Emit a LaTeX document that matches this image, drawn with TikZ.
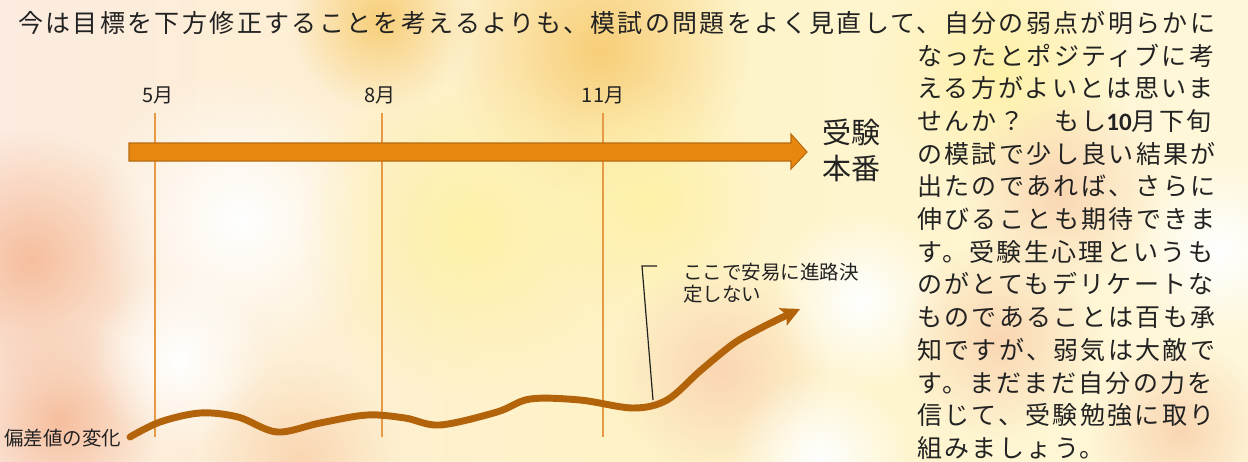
\documentclass[tikz,border=0pt]{standalone}
\usepackage{fontspec}
\usetikzlibrary{arrows.meta,fadings}
\newfontfamily\jpfont{Noto Sans CJK JP}
\newfontfamily\jpbody[LetterSpace=9.4]{Noto Sans CJK JP}
\newfontfamily\numfont{Carlito}
\tikzfading[name=blobfade, inner color=transparent!0, outer color=transparent!100]
\definecolor{bgleft}{HTML}{FCEBE0}
\definecolor{bgmid}{HTML}{FEF3C6}
\definecolor{bgright}{HTML}{FEF7DA}
\definecolor{salmon}{HTML}{F6BE9E}
\definecolor{peach}{HTML}{FAD6B2}
\definecolor{goldy}{HTML}{F8CE78}
\definecolor{paleyellow}{HTML}{FEF1A8}
\definecolor{arrowfill}{HTML}{E8870F}
\definecolor{arrowedge}{HTML}{B86A10}
\definecolor{guide}{HTML}{E79A45}
\definecolor{trend}{HTML}{B3640B}
\definecolor{ink}{HTML}{222222}
\tikzset{
  blob/.style={fill=#1, path fading=blobfade},
  bodytext/.style={font=\jpbody\fontsize{18.75pt}{24pt}\selectfont, text=ink, inner sep=0pt, anchor=base west},
  monthlabel/.style={font=\jpfont\fontsize{15pt}{18pt}\selectfont, text=ink, inner sep=0pt},
  smalllabel/.style={font=\jpfont\fontsize{14.6pt}{17pt}\selectfont, text=ink, inner sep=0pt, anchor=base west},
  biglabel/.style={font=\jpfont\fontsize{21.75pt}{26pt}\selectfont, text=ink, inner sep=0pt, anchor=base west},
  guideline/.style={draw=guide, line width=1.1pt},
  trendline/.style={draw=trend, line width=5.2pt, line cap=round, line join=round},
  callout/.style={draw=ink, line width=0.9pt}
}
\begin{document}
\begin{tikzpicture}[x=0.75pt,y=-0.75pt]
\useasboundingbox (0,0) rectangle (1248,461);
% background
\shade[left color=bgleft, right color=bgright, middle color=bgmid] (0,0) rectangle (1248,461);
\fill[blob=salmon] (30,260) circle (130);
\fill[blob=salmon] (60,420) circle (100);
\fill[blob=white] (240,220) circle (150);
\fill[blob=white] (180,360) circle (90);
\fill[blob=goldy] (600,50) circle (150);
\fill[blob=goldy] (380,20) circle (90);
\fill[blob=paleyellow] (470,230) circle (170);
\fill[blob=paleyellow] (650,200) circle (120);
\fill[blob=peach] (720,370) circle (110);
\fill[blob=white] (860,300) circle (90);
\fill[blob=paleyellow] (1000,70) circle (130);
\fill[blob=peach] (1060,190) circle (100);
\fill[blob=peach] (1000,340) circle (100);
\fill[blob=peach] (1180,430) circle (90);
\fill[blob=white] (1220,250) circle (90);
\fill[blob=white] (820,460) circle (90);
\fill[blob=peach] (300,460) circle (100);
% top text line
\node[bodytext] (line0) at (18,32.5) {今は目標を下方修正することを考えるよりも、模試の問題をよく見直して、自分の弱点が明らかに};
% right column
\foreach \t [count=\i] in {なったとポジティブに考,える方がよいとは思いま,せんか？　もし{\numfont\bfseries 10}月下旬,の模試で少し良い結果が,出たのであれば、さらに,伸びることも期待できま,す。受験生心理というも,のがとてもデリケートな,ものであることは百も承,知ですが、弱気は大敵で,す。まだまだ自分の力を,信じて、受験勉強に取り,組みましょう。}
  \node[bodytext] (col\i) at (917,{65+32.7*(\i-1)}) {\t};
% guide lines
\foreach \x [count=\i] in {155,382,603}{
  \coordinate (gtop\i) at (\x,113);
  \coordinate (gbot\i) at (\x,437);
  \draw[guideline] (gtop\i) -- (gbot\i);
}
\node[monthlabel] (m1) at (158,95) {5月};
\node[monthlabel] (m2) at (380,95) {8月};
\node[monthlabel] (m3) at (603,95) {11月};
% block arrow
\draw[fill=arrowfill, draw=arrowedge, line width=0.8pt, line join=miter]
  (129,143) -- (791,143) -- (791,134) -- (807,152) -- (791,169) -- (791,161) -- (129,161) -- cycle;
\node[biglabel] (exam1) at (822,143) {受験};
\node[biglabel] (exam2) at (822,179) {本番};
% trend curve
\draw[trendline, -{Stealth[length=14pt, width=14pt, inset=3pt]}] plot[smooth, tension=0.55] coordinates {
 (130,437) (160,422) (200,413) (238,417) (277,432) (320,423) (367,415) (405,418) (440,425) (497,412) (530,399) (580,400) (633,408) (667,400) (700,371) (733,344) (757,330) (783,317) (800,309)};
\node[smalllabel] (trendlabel) at (4,445.5) {偏差値の変化};
% callout
\coordinate (cbot) at (653,400);
\coordinate (ccorner) at (642,266);
\coordinate (cend) at (657,266);
\draw[callout] (cbot) -- (ccorner) -- (cend);
\node[smalllabel] (note1) at (683,279) {ここで安易に進路決};
\node[smalllabel] (note2) at (683,301.5) {定しない};
\end{tikzpicture}
\end{document}
